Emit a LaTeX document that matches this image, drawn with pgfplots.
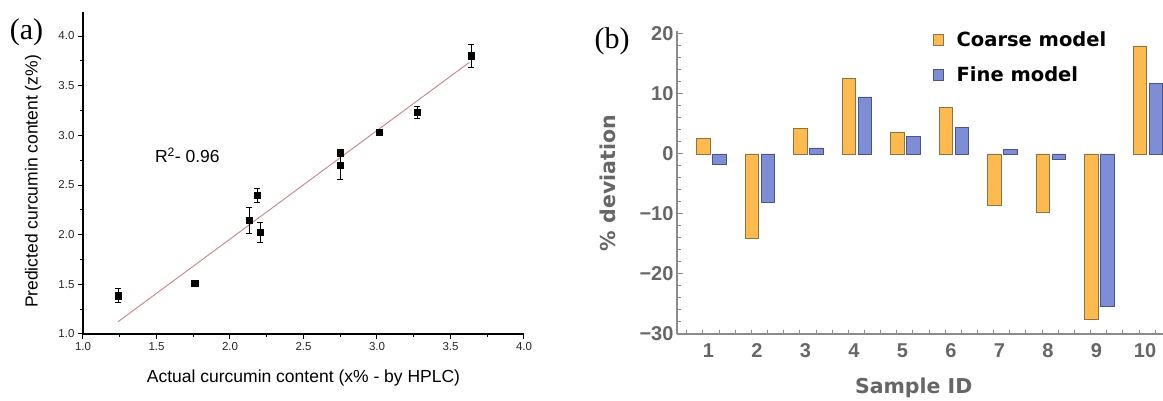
\documentclass[border=0pt]{standalone}
\usepackage{fontspec}
\setmainfont{Liberation Sans}
\newfontfamily\serifa{Liberation Serif}
\newfontfamily\djv{DejaVu Sans}
\newfontfamily\lsans{Liberation Sans}
\usepackage{pgfplots}
\pgfplotsset{compat=1.18}
\definecolor{coarse}{HTML}{FDBA4E}
\definecolor{coarseedge}{HTML}{8A7446}
\definecolor{fine}{HTML}{7E8ED6}
\definecolor{fineedge}{HTML}{4C5486}
\definecolor{fitline}{HTML}{C8828A}
\definecolor{axgray}{HTML}{8A8A8A}
\definecolor{txgray}{HTML}{666666}
\pgfplotstableread{
x y e
1.239 1.386 0.07
1.761 1.510 0.03
2.129 2.148 0.13
2.187 2.400 0.07
2.207 2.024 0.10
2.750 2.825 0.03
2.750 2.700 0.14
3.016 3.030 0.02
3.272 3.232 0.06
3.641 3.800 0.12
}\pointsa
\pgfplotstableread{
id coarse fine
1 2.6 -1.8
2 -14.0 -8.0
3 4.2 1.0
4 12.6 9.5
5 3.6 2.9
6 7.7 4.4
7 -8.6 0.7
8 -9.7 -0.9
9 -27.6 -25.4
10 18.0 11.8
}\barsb
\begin{document}
\begin{tikzpicture}
\useasboundingbox (0pt,0pt) rectangle (1163pt,401pt);
% ---------------- panel (a)
\begin{axis}[
  scale only axis, width=441pt, height=322.3pt,
  at={(83pt,67pt)}, anchor=south west,
  xmin=1, xmax=4, ymin=1, ymax=4.245,
  axis x line*=bottom, axis y line*=left,
  axis line style={black, line width=1.4pt},
  xtick={1,1.5,...,4}, ytick={1,1.5,...,4},
  minor x tick num=1, minor y tick num=1,
  tick align=outside,
  major tick length=5pt, minor tick length=3pt,
  tick style={black, line width=1pt},
  /pgf/number format/assume math mode=true,
  xticklabel style={/pgf/number format/.cd, fixed, fixed zerofill, precision=1},
  yticklabel style={/pgf/number format/.cd, fixed, fixed zerofill, precision=1},
  ticklabel style={font=\lsans\fontsize{11.5}{13}\selectfont, text=black!85},
  xlabel={Actual curcumin content (x\% - by HPLC)},
  ylabel={Predicted curcumin content (z\%)},
  every axis x label/.style={at={(axis description cs:0.5,-0.137)}, anchor=center,
     font=\lsans\fontsize{17.5}{20}\selectfont},
  every axis y label/.style={at={(axis description cs:-0.113,0.473)}, anchor=center, rotate=90,
     font=\lsans\fontsize{17.5}{20}\selectfont},
  clip=false,
]
\addplot[fitline, line width=0.9pt] coordinates {(1.239,1.124) (3.628,3.735)};
\addplot[only marks, mark=square*, mark size=3.2pt, black,
  error bars/.cd, y dir=both, y explicit,
  error bar style={line width=0.7pt, black},
  error mark options={rotate=90, mark size=3pt, line width=0.7pt, black}]
  table[x=x, y=y, y error=e] {\pointsa};
\node[font=\lsans\fontsize{17.5}{20}\selectfont, anchor=center] at (axis cs:1.71,2.80) {R\textsuperscript{2}- 0.96};
\end{axis}
% ---------------- panel (b)
\begin{axis}[
  scale only axis, width=486pt, height=303pt,
  at={(677pt,67pt)}, anchor=south west,
  xmin=0.35, xmax=10.37, ymin=-30, ymax=20.5,
  axis x line*=bottom, axis y line*=left,
  axis line style={axgray, line width=1.2pt},
  ytick={-30,-20,...,20},
  yticklabels={−30,−20,−10,0,10,20},
  minor y tick num=4,
  xtick={1,...,10},
  xticklabels={1,2,3,4,5,6,7,8,9,10},
  major x tick style={draw=none},
  minor xtick={0.552,0.885,...,10.3},
  tick align=inside,
  major tick length=6pt, minor tick length=4pt,
  tick style={axgray, line width=1pt},
  /pgf/number format/assume math mode=true,
  ticklabel style={font=\lsans\bfseries\fontsize{20}{24}\selectfont, text=txgray},
  xticklabel style={yshift=-6pt},
  xlabel={Sample ID},
  ylabel={\% deviation},
  every axis x label/.style={at={(axis description cs:0.487,-0.178)}, anchor=center,
     font=\djv\bfseries\fontsize{20.5}{24}\selectfont, text=txgray},
  every axis y label/.style={at={(axis description cs:-0.142,0.498)}, anchor=center, rotate=90,
     font=\djv\bfseries\fontsize{20.5}{24}\selectfont, text=txgray},
  legend style={draw=none, fill=none, inner sep=0pt, at={(0.526,0.998)}, anchor=north west,
    font=\djv\bfseries\fontsize{19.5}{23}\selectfont, row sep=19pt, column sep=13pt,
    nodes={inner sep=0pt}},
  legend cell align=left,
]
\addlegendimage{legend image code/.code={\draw[fill=coarse, draw=coarseedge, line width=0.8pt] (0pt,-5.5pt) rectangle (10pt,5.5pt);}}
\addlegendentry{Coarse model}
\addlegendimage{legend image code/.code={\draw[fill=fine, draw=fineedge, line width=0.8pt] (0pt,-5.5pt) rectangle (10pt,5.5pt);}}
\addlegendentry{Fine model}
\addplot[ybar, bar width=13.5pt, bar shift=-5pt, fill=coarse, draw=coarseedge, line width=0.8pt, forget plot]
  table[x=id, y=coarse] {\barsb};
\addplot[ybar, bar width=13.5pt, bar shift=11pt, fill=fine, draw=fineedge, line width=0.8pt, forget plot]
  table[x=id, y=fine] {\barsb};
\end{axis}
\node[font=\serifa\fontsize{30}{30}\selectfont] at (26.5pt,368.5pt) {(a)};
\node[font=\serifa\fontsize{30}{30}\selectfont] at (612pt,359.5pt) {(b)};
\end{tikzpicture}
\end{document}
